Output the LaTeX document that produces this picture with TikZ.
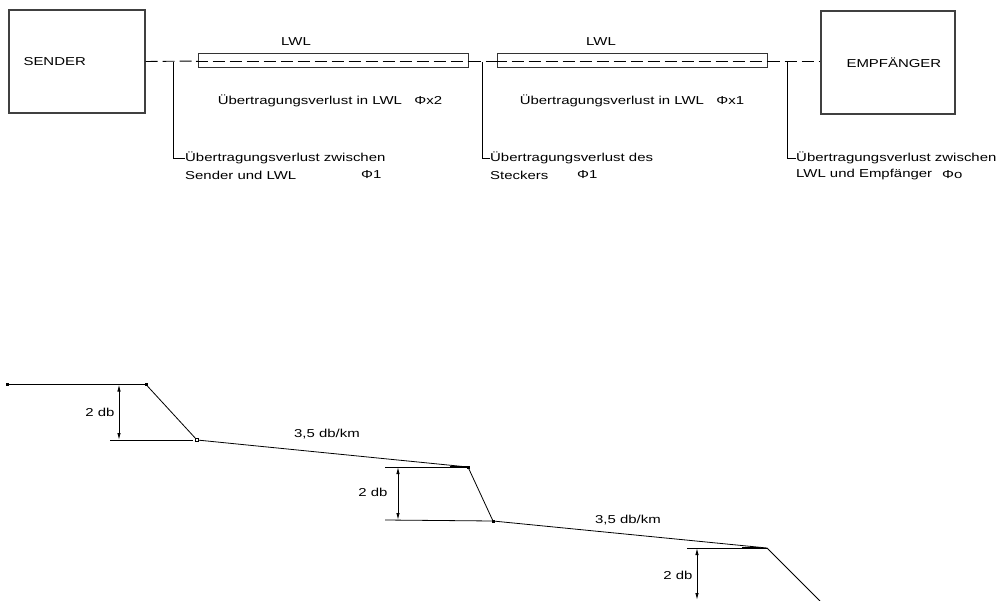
\documentclass[tikz,border=0pt]{standalone}
\usepackage{fontspec}
\setmainfont{Liberation Sans}[FakeStretch=1.3]
\usetikzlibrary{arrows.meta}
\begin{document}
\begin{tikzpicture}[x=1bp,y=-1bp,
  every node/.style={font=\fontsize{11.5bp}{14bp}\selectfont, inner sep=0pt},
  devbox/.style={draw=black!75, line width=1.3bp, minimum width=#1, minimum height=103bp},
  fiber/.style={draw=black!80, line width=1bp, minimum width=270bp, minimum height=14bp},
  dashline/.style={line width=0.9bp, dash pattern=on 12bp off 5bp},
  thinline/.style={line width=0.8bp},
  dimarrow/.style={line width=0.9bp, {Latex[length=7bp,width=3.5bp]}-{Latex[length=7bp,width=3.5bp]}},
  dot/.style={fill=black, minimum size=3bp, inner sep=0pt},
  odot/.style={draw=black, fill=white, line width=0.6bp, minimum size=3bp, inner sep=0pt}
]
\useasboundingbox (0,0) rectangle (1003,601);

% --- top: transmission chain ---
\node[devbox=136bp] (sender) at (77,61.5) {};
\node[anchor=west] (sendertxt) at ([xshift=15bp]sender.west) {SENDER};
\node[devbox=134bp] (empf) at (888,62.5) {};
\node[anchor=west] (empftxt) at ([xshift=26bp]empf.west) {EMPFÄNGER};

\node[fiber] (f1) at (333,61) {};
\node[fiber] (f2) at (632,61) {};
\node (lwl1) at (296,42) {LWL};
\node (lwl2) at (601,42) {LWL};
\node (v1) at (330,101) {Übertragungsverlust in LWL\ \ \ Φx2};
\node (v2) at (632,101) {Übertragungsverlust in LWL\ \ \ Φx1};

\draw[dashline] (sender.east) -- (f1.west);
\draw[dashline] ([xshift=-2bp]f1.west) -- ([xshift=2bp]f1.east);
\draw[dashline] (f1.east) -- (f2.west);
\draw[dashline] ([xshift=-2bp]f2.west) -- ([xshift=2bp]f2.east);
\draw[dashline] (f2.east) -- (empf.west |- f2.east);

\coordinate (j1) at (173,62);
\coordinate (j2) at (482,62);
\coordinate (j3) at (787,62);
\coordinate (k1) at (173,158);
\coordinate (k2) at (482,158);
\coordinate (k3) at (787,158);

\node[anchor=west] (a1) at (185,158) {Übertragungsverlust zwischen};
\node[anchor=west] (a1b) at (185,175) {Sender und LWL};
\node[anchor=west] (a1c) at (361,175) {Φ1};
\node[anchor=west] (a2) at (490,158) {Übertragungsverlust des};
\node[anchor=west] (a2b) at (490,175) {Steckers};
\node[anchor=west] (a2c) at (577,175) {Φ1};
\node[anchor=west] (a3) at (796,158) {Übertragungsverlust zwischen};
\node[anchor=west] (a3b) at (796,175) {LWL und Empfänger};
\node[anchor=west] (a3c) at (942,175) {Φo};

\draw[thinline] (j1) -- (k1) -- (a1.west);
\draw[thinline] (j2) -- (k2) -- (a2.west);
\draw[thinline] (j3) -- (k3) -- (a3.west);

% --- bottom: level diagram ---
\coordinate (p0) at (7,384.5);
\coordinate (p1) at (146,384.5);
\coordinate (p2) at (197,440);
\coordinate (p3) at (468,467);
\coordinate (p4) at (493,521);
\coordinate (p5) at (767,548);
\coordinate (p6) at (820,601);

\draw[thinline] (p0) -- (p1) -- (p2) -- (p3) -- (p4) -- (p5) -- (p6);

% dimension 1
\draw[line width=1.8bp] (110,384.5) -- (p1);
\draw[thinline] (110,440) -- (193,440);
\coordinate (d1a) at (119,384.5);
\coordinate (d1b) at (119,440);
\draw[dimarrow] (d1a) -- (d1b);
\node (l1) at (100,412) {2 db};

% dimension 2
\draw[thinline] (385,467) -- (p3);
\draw[line width=1.8bp] (450,467) -- (p3);
\draw[thinline] (385,520) -- (p4);
\coordinate (d2a) at (398,467);
\coordinate (d2b) at (398,520);
\draw[dimarrow] (d2a) -- (d2b);
\node (l2) at (373,492) {2 db};

% dimension 3
\draw[thinline] (687,548) -- (p5);
\draw[line width=1.8bp] (742,548) -- (760,548);
\coordinate (d3a) at (697,548);
\coordinate (d3b) at (697,600);
\draw[dimarrow] (d3a) -- (d3b);
\node (l3) at (678,575) {2 db};

\node (s1) at (327,434) {3,5 db/km};
\node (s2) at (628,520) {3,5 db/km};

\node[dot] (m0) at (p0) {};
\node[dot] (m1) at (p1) {};
\node[odot] (m2) at (p2) {};
\node[dot] (m3) at (p3) {};
\node[dot] (m4) at (p4) {};
\end{tikzpicture}
\end{document}
